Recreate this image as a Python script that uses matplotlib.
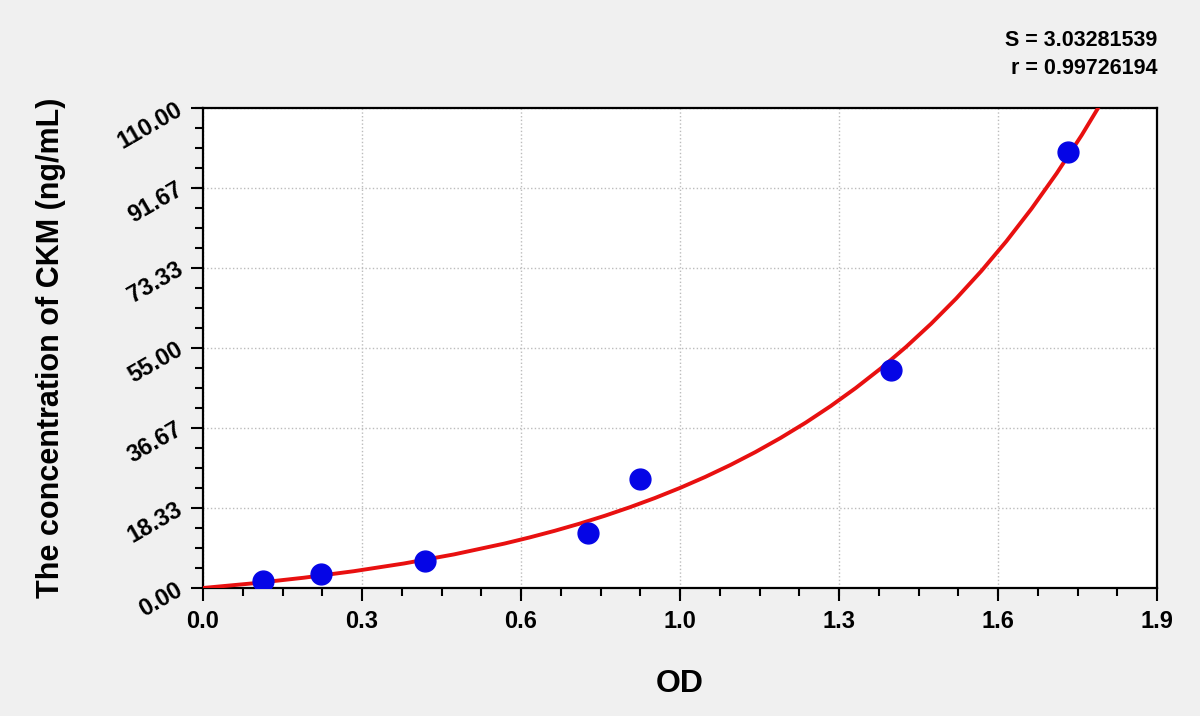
import matplotlib
matplotlib.use('Agg')
import matplotlib.pyplot as plt
from matplotlib.ticker import AutoMinorLocator

plt.rcParams['font.family'] = ['Liberation Sans', 'DejaVu Sans']

# standards (OD vs concentration)
od = [0.120, 0.234, 0.442, 0.767, 0.870, 1.370, 1.723]
conc = [1.56, 3.12, 6.25, 12.5, 25.0, 50.0, 100.0]

# fitted curve
curve_x = [0.0, 0.1, 0.2, 0.3, 0.4, 0.5, 0.6, 0.65, 0.7, 0.75, 0.8, 0.85,
           0.9, 0.95, 1.0, 1.05, 1.1, 1.15, 1.2, 1.25, 1.3, 1.35, 1.4,
           1.45, 1.5, 1.55, 1.6, 1.65, 1.7, 1.75, 1.8]
curve_y = [0.0, 1.07, 2.34, 3.84, 5.61, 7.70, 10.17, 11.57, 13.09, 14.74,
           16.54, 18.50, 20.62, 22.93, 25.44, 28.17, 31.14, 34.37, 37.87,
           41.69, 45.83, 50.33, 55.23, 60.55, 66.34, 72.63, 79.47, 86.91,
           95.0, 103.78, 113.3]

x_ticks = [0.0, 0.3167, 0.6333, 0.95, 1.2667, 1.5833, 1.9]
x_labels = ['0.0', '0.3', '0.6', '1.0', '1.3', '1.6', '1.9']
y_ticks = [0.0, 18.333, 36.667, 55.0, 73.333, 91.667, 110.0]
y_labels = ['0.00', '18.33', '36.67', '55.00', '73.33', '91.67', '110.00']

s_text = 'S = 3.03281539'
r_text = 'r = 0.99726194'

fig = plt.figure(figsize=(12, 7.16), dpi=100, facecolor='#f0f0f0')
ax = fig.add_axes([0.1692, 0.1788, 0.795, 0.6704])
ax.set_facecolor('white')

ax.plot(curve_x, curve_y, color='#e81010', lw=2.8, zorder=3)
ax.plot(od, conc, 'o', color='#0505e6', ms=15, zorder=4)

ax.set_xlim(0, 1.9)
ax.set_ylim(0, 110)
ax.set_xticks(x_ticks)
ax.set_xticklabels(x_labels)
ax.set_yticks(y_ticks)
ax.set_yticklabels(y_labels)
ax.xaxis.set_minor_locator(AutoMinorLocator(4))
ax.yaxis.set_minor_locator(AutoMinorLocator(4))

ax.grid(True, which='major', ls=':', color='#bcbcbc', lw=1)
ax.set_axisbelow(True)
for sp in ax.spines.values():
    sp.set_linewidth(1.6)
    sp.set_color('black')

ax.tick_params(which='major', length=9, width=1.5, direction='out',
               labelsize=17, pad=7)
ax.tick_params(which='minor', length=6, width=1.5, direction='out')
for lab in ax.get_xticklabels():
    lab.set_fontweight('bold')
for lab in ax.get_yticklabels():
    lab.set_fontweight('bold')
    lab.set_rotation(30)
    lab.set_rotation_mode('anchor')
    lab.set_ha('right')
    lab.set_va('center')

ax.set_xlabel('OD', fontsize=23, fontweight='bold', labelpad=26)
ax.set_ylabel('The concentration of CKM (ng/mL)', fontsize=22,
              fontweight='bold', labelpad=34)

fig.text(0.9642, 0.944, s_text, ha='right', va='center',
         fontsize=15.5, fontweight='bold')
fig.text(0.9642, 0.904, r_text, ha='right', va='center',
         fontsize=15.5, fontweight='bold')

fig.savefig('out.png', dpi=100, facecolor=fig.get_facecolor())
